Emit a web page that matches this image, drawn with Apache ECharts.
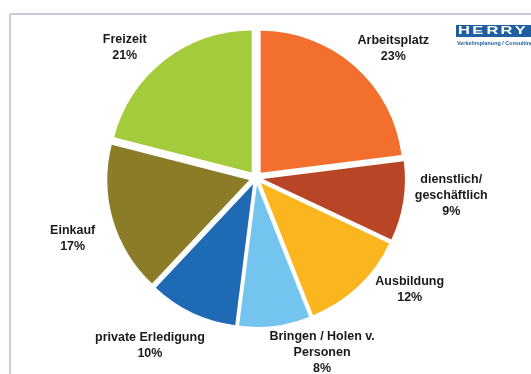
<!DOCTYPE html>
<html>
<head>
<meta charset="utf-8">
<script src="https://cdn.jsdelivr.net/npm/echarts@6/dist/echarts.min.js"></script>
<style>
  html, body { margin: 0; padding: 0; background: #ffffff; }
  #chart { width: 531px; height: 374px; }
</style>
</head>
<body>
<div id="chart"></div>
<script>
// Wegezwecke – Anteile in Prozent, im Uhrzeigersinn ab 12 Uhr
const categories = [
  'Arbeitsplatz',
  'dienstlich/\ngeschäftlich',
  'Ausbildung',
  'Bringen / Holen v.\nPersonen',
  'private Erledigung',
  'Einkauf',
  'Freizeit'
];
const shares = [23, 9, 12, 8, 10, 17, 21];
const sliceColors = ['#F36F2E', '#B84525', '#FBB61F', '#73C4EF', '#1F6AB4', '#8B7C28', '#A4CB3B'];

// pie geometry
const CX = 256, CY = 178, R = 142, EXPLODE = 7;
// label ring: each label is turned a little off its slice middle and set at its own distance
const labelTurn = [5.2, -4, -10.8, -13.5, 7.2, -2, -7.4];
const labelDist = [189, 196, 190, 187, 198, 193, 185];

const total = shares.reduce((a, b) => a + b, 0);
const midAngles = [];
let acc = 0;
shares.forEach(v => { midAngles.push((acc + v / 2) / total * 360); acc += v; });

function labelPoint(i) {
  const a = (midAngles[i] + labelTurn[i]) * Math.PI / 180;
  return [CX + labelDist[i] * Math.sin(a), CY - labelDist[i] * Math.cos(a)];
}

const chart = echarts.init(document.getElementById('chart'), null, { renderer: 'canvas' });

const frameColor = '#C4CBE0';
const logoBlue = '#1F5F9F';
const logoLetters = ['H', 'E', 'R', 'R', 'Y'];
const labelFont = 'bold 12.5px "Liberation Sans", Arial, sans-serif';

const graphics = [
  { type: 'line', shape: { x1: 10, y1: 14, x2: 531, y2: 14 }, style: { stroke: frameColor, lineWidth: 2 }, silent: true },
  { type: 'line', shape: { x1: 10, y1: 14, x2: 10, y2: 374 }, style: { stroke: frameColor, lineWidth: 2 }, silent: true },
  { type: 'rect', shape: { x: 456, y: 25, width: 80, height: 12 }, style: { fill: logoBlue }, silent: true },
  {
    type: 'text', x: 457, y: 41,
    style: { text: 'Verkehrsplanung / Consulting', fill: logoBlue, font: 'bold 5.4px "Liberation Sans", Arial, sans-serif' },
    silent: true
  }
];
logoLetters.forEach((ch, i) => {
  graphics.push({
    type: 'text', x: 458 + i * 14.2, y: 31.2, scaleX: 1.5, z: 10,
    style: { text: ch, fill: '#ffffff', font: 'bold 11px "Liberation Sans", Arial, sans-serif', verticalAlign: 'middle' },
    silent: true
  });
});

// slice labels: name and share
categories.forEach((name, i) => {
  const p = labelPoint(i);
  graphics.push({
    type: 'text', x: p[0], y: p[1], z: 20, silent: true,
    style: {
      text: name + '\n' + shares[i] + '%',
      font: labelFont,
      lineHeight: 16,
      fill: '#1A1A1A',
      align: 'center',
      verticalAlign: 'middle'
    }
  });
});

chart.setOption({
  animation: false,
  backgroundColor: '#ffffff',
  graphic: graphics,
  series: [{
    type: 'pie',
    center: [CX, CY],
    radius: R,
    startAngle: 90,
    clockwise: true,
    selectedMode: 'multiple',
    selectedOffset: EXPLODE,
    data: categories.map((name, i) => ({
      name: name,
      value: shares[i],
      selected: true,
      itemStyle: { color: sliceColors[i] }
    })),
    itemStyle: { borderWidth: 0 },
    select: { itemStyle: { borderWidth: 0 } },
    emphasis: { disabled: true },
    label: { show: false },
    labelLine: { show: false }
  }]
});
</script>
</body>
</html>
